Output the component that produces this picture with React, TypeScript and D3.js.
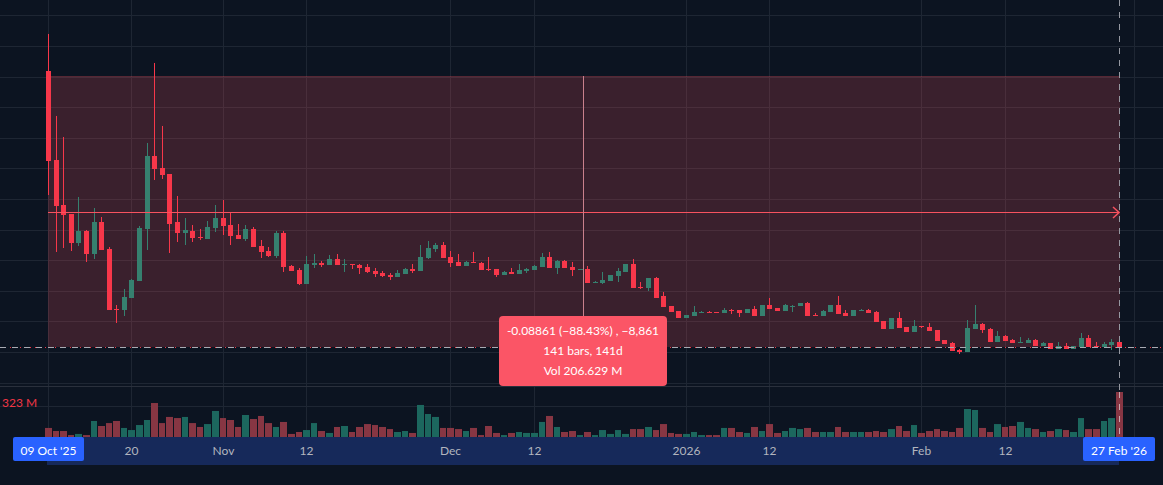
// App.tsx
import React, { useEffect, useRef } from 'react';
import * as d3 from 'd3';

const WIDTH = 1163;
const HEIGHT = 485;

// prices in units of 0.00001, volume in millions
const opens = [10184,7274,5802,5508,4560,4952,4200,5247,4364,2402,2369,2761,3317,5018,7405,7012,6816,5247,4887,4952,4756,4691,5050,5377,5148,4821,4691,5018,4462,4298,4135,4887,3808,3677,3219,3840,3906,3840,4037,3840,3873,3840,3775,3644,3579,3513,3448,3546,3710,3644,4069,4364,4494,4102,3939,3808,3939,3906,3710,3710,3513,3612,3546,3644,3677,3775,4102,3742,3971,3775,3677,3710,3252,3252,3317,3481,3612,3873,3121,3088,3415,2827,2500,2336,2107,2173,2271,2303,2303,2271,2369,2369,2271,2402,2173,2532,2434,2336,2500,2500,2598,2205,2173,2303,2532,2271,2173,2336,2369,2303,2009,1748,2107,1813,1649,1846,1813,1715,1388,1290,1061,995,1748,1911,1748,1322,1519,1388,1290,1290,1388,1191,1290,1094,1191,1094,1159,1453,1191,1159,1224,1322];
const highs = [11394,8713,8026,5508,6064,4985,5704,5410,4429,2532,3056,3383,5116,7830,10446,8386,6816,6097,5377,5148,5018,5279,5802,5966,5541,5181,5148,5083,4658,4429,4952,4952,3840,3742,4135,4200,3971,4167,4200,4037,3873,3873,3873,3742,3644,3579,3677,3742,3873,4494,4625,4560,4592,4298,4200,3971,4266,3939,4102,3710,3644,3742,3873,3742,3840,4233,4266,4004,4004,3939,3710,3808,3317,3612,3513,3742,3873,4037,3284,3415,3448,2958,2500,2336,2205,2500,2336,2336,2303,2434,2402,2369,2402,2500,2532,2761,2434,2565,2532,2598,2631,2271,2369,2532,2827,2369,2369,2402,2402,2336,2009,2107,2303,1813,2042,1846,1944,1715,1388,1322,1094,2042,2532,1944,1780,1682,1551,1420,1486,1453,1420,1322,1290,1322,1290,1191,1617,1551,1322,1322,1420,1322];
const lows = [6129,4266,4396,4298,4462,3939,4037,4331,2369,1944,2173,2761,3317,4331,6620,6653,4233,4592,4494,4592,4658,4691,4919,4821,4494,4691,4625,4429,4069,4102,4069,3612,3644,3186,3219,3742,3775,3840,3840,3612,3710,3546,3579,3448,3448,3350,3448,3546,3579,3644,4037,4266,4069,3775,3808,3808,3906,3677,3644,3448,3513,3546,3546,3579,3677,3775,3742,3546,3742,3481,3677,3252,3252,3219,3317,3284,3612,3088,3056,2990,2761,2467,2303,2107,2107,2173,2271,2271,2271,2271,2238,2140,2271,2173,2173,2402,2336,2336,2303,2500,2173,2173,2173,2303,2238,2173,2173,2336,2271,1976,1748,1748,1780,1649,1649,1780,1682,1355,1257,1028,930,995,1748,1617,1322,1322,1355,1290,1290,1290,1191,1191,1094,1094,1094,1094,1159,1159,1159,1159,1061,1148];
const closes = [7241,5770,5475,4560,4952,4200,5247,4331,2369,2369,2794,3350,5050,7405,6980,6783,5181,4887,4985,4723,4723,5083,5377,5116,4789,4691,5018,4429,4266,4135,4887,3775,3644,3219,3873,3906,3840,4037,3840,3873,3840,3742,3612,3546,3481,3448,3579,3710,3644,4102,4396,4494,4069,3906,3808,3939,3906,3677,3677,3513,3612,3546,3677,3710,3808,4102,3742,3971,3742,3677,3710,3252,3284,3350,3513,3644,3873,3088,3088,3415,2761,2467,2303,2107,2205,2303,2303,2271,2271,2369,2336,2271,2402,2173,2532,2402,2336,2532,2500,2598,2173,2173,2336,2532,2238,2173,2369,2369,2271,1976,1748,2107,1780,1649,1846,1813,1682,1355,1257,1028,995,1780,1911,1715,1322,1519,1355,1290,1322,1388,1191,1290,1094,1191,1094,1191,1453,1159,1159,1257,1322,1148];
const volumes = [65,43,43,14,22,14,115,79,100,115,65,50,86,122,244,100,144,136,144,100,72,93,187,136,122,72,158,129,151,100,72,108,22,36,50,100,43,29,72,79,36,72,93,86,72,57,36,43,29,230,165,144,65,65,57,43,65,14,79,29,14,29,36,29,29,108,151,72,36,43,14,36,14,50,22,50,22,57,57,72,50,93,29,22,22,36,14,14,14,65,65,36,29,72,43,93,29,43,65,57,65,36,36,36,72,36,36,36,36,43,36,57,79,43,86,29,43,57,43,36,65,201,194,65,36,93,72,79,108,65,57,36,43,57,50,36,136,57,57,115,136,323];

const gridXTicks = [0, 11, 23, 34, 53, 64, 84, 95, 115, 126, 143];
const timeLabels = ['20', 'Nov', '12', 'Dec', '12', '2026', '12', 'Feb', '12'];
const timeLabelBars = [11, 23, 34, 53, 64, 84, 95, 115, 126];
const gridPrices = [15, 46, 77, 107, 138, 168, 199, 230, 260, 291, 321, 352];

const rangeTop = 10020;
const rangeBottom = 1159;

const BG = '#0c1421';
const UP = '#36806f';
const DOWN = '#f7374a';
const UP_VOL = '#1c675e';
const DOWN_VOL = '#873643';
const FONT = 'Lato, "Noto Sans", sans-serif';

const App: React.FC = () => {
  const chartRef = useRef<SVGSVGElement | null>(null);

  useEffect(() => {
    if (!chartRef.current) return;
    const svg = d3.select(chartRef.current);
    svg.selectAll('*').remove();

    const x = d3.scaleLinear().domain([0, 141]).range([48.43, 1119.33]);
    const y = d3.scaleLinear().domain([rangeBottom, rangeTop]).range([347, 76]);
    const yVol = d3.scaleLinear().domain([0, 323]).range([437, 392]);
    const px = (i: number) => Math.floor(x(i));

    svg.append('rect').attr('width', WIDTH).attr('height', HEIGHT).attr('fill', BG);

    // grid
    const grid = svg.append('g').attr('stroke', '#1e2633').attr('stroke-width', 1);
    gridPrices.forEach(g => {
      grid.append('line').attr('x1', 0).attr('x2', WIDTH).attr('y1', g + 0.5).attr('y2', g + 0.5);
    });
    grid.append('line').attr('x1', 0).attr('x2', WIDTH).attr('y1', 406.5).attr('y2', 406.5);
    gridXTicks.forEach(t => {
      grid.append('line').attr('x1', px(t) + 0.5).attr('x2', px(t) + 0.5).attr('y1', 0).attr('y2', 437);
    });

    // pane separator
    svg.append('line').attr('x1', 0).attr('x2', WIDTH).attr('y1', 383.5).attr('y2', 383.5).attr('stroke', '#1e2633');
    svg.append('line').attr('x1', 0).attr('x2', WIDTH).attr('y1', 386.5).attr('y2', 386.5).attr('stroke', '#2a303c');

    // price range box
    svg.append('rect')
      .attr('x', px(0))
      .attr('y', y(rangeTop))
      .attr('width', px(141) - px(0) + 1)
      .attr('height', y(rangeBottom) - y(rangeTop))
      .attr('fill', 'rgba(247, 82, 95, 0.2)');
    svg.append('line')
      .attr('x1', px(0)).attr('x2', px(141) + 1)
      .attr('y1', y(rangeTop) + 0.5).attr('y2', y(rangeTop) + 0.5)
      .attr('stroke', 'rgba(247, 82, 95, 0.15)');

    // candles
    const candles = svg.append('g');
    opens.forEach((open, i) => {
      const close = closes[i];
      const color = close >= open ? UP : DOWN;
      const top = Math.round(y(Math.max(open, close)));
      const bottom = Math.round(y(Math.min(open, close)));
      candles.append('rect')
        .attr('x', px(i))
        .attr('y', y(highs[i]))
        .attr('width', 1)
        .attr('height', y(lows[i]) - y(highs[i]))
        .attr('fill', color);
      candles.append('rect')
        .attr('x', px(i) - 2)
        .attr('y', top)
        .attr('width', 5)
        .attr('height', Math.max(1, bottom - top))
        .attr('fill', color);
    });

    // crosshair, dashes drawn over the red dash-dot of the price line
    svg.append('line')
      .attr('x1', 0).attr('x2', WIDTH).attr('y1', 347.5).attr('y2', 347.5)
      .attr('stroke', '#f23645').attr('stroke-dasharray', '1 4');
    svg.append('line')
      .attr('x1', 0).attr('x2', WIDTH).attr('y1', 347.5).attr('y2', 347.5)
      .attr('stroke', '#a8abb3').attr('stroke-dasharray', '6 6');
    svg.append('line')
      .attr('x1', px(141) + 0.5).attr('x2', px(141) + 0.5).attr('y1', 0).attr('y2', 437)
      .attr('stroke', '#9598a1').attr('stroke-dasharray', '6 6');

    // measure lines
    const midY = Math.round(y((rangeTop + rangeBottom) / 2)) + 0.5;
    svg.append('line')
      .attr('x1', px(0)).attr('x2', px(141)).attr('y1', midY).attr('y2', midY)
      .attr('stroke', '#f7525f');
    svg.append('path')
      .attr('d', `M${px(141) - 6},${midY - 5.5}L${px(141)},${midY}L${px(141) - 6},${midY + 5.5}`)
      .attr('fill', 'none').attr('stroke', '#f7525f').attr('stroke-width', 1.5);
    svg.append('line')
      .attr('x1', 583.5).attr('x2', 583.5).attr('y1', y(rangeTop)).attr('y2', 316)
      .attr('stroke', '#c9808c');

    // volume
    const vol = svg.append('g');
    volumes.forEach((v, i) => {
      vol.append('rect')
        .attr('x', px(i) - 3)
        .attr('y', yVol(v))
        .attr('width', i < 141 ? px(i + 1) - px(i) - 1 : 7)
        .attr('height', yVol(0) - yVol(v))
        .attr('fill', closes[i] >= opens[i] ? UP_VOL : DOWN_VOL);
    });
    svg.append('line')
      .attr('x1', px(141) + 0.5).attr('x2', px(141) + 0.5).attr('y1', 392).attr('y2', 437)
      .attr('stroke', '#c8a9b0').attr('stroke-dasharray', '6 6');

    svg.append('text')
      .attr('x', 2).attr('y', 407)
      .attr('fill', '#f23645').attr('font-size', 12).attr('font-family', FONT)
      .text('323 M');

    // time axis band
    svg.append('rect').attr('x', 47).attr('y', 437).attr('width', 1072).attr('height', 28).attr('fill', '#16295a');
    timeLabels.forEach((label, i) => {
      svg.append('text')
        .attr('x', px(timeLabelBars[i]) + 0.5).attr('y', 455)
        .attr('text-anchor', 'middle')
        .attr('fill', '#b2b5be').attr('font-size', 12).attr('font-family', FONT)
        .text(label);
    });

    const dateTag = (x0: number, w: number, text: string) => {
      svg.append('rect').attr('x', x0).attr('y', 437).attr('width', w).attr('height', 24).attr('rx', 2).attr('fill', '#2962ff');
      svg.append('text')
        .attr('x', x0 + w / 2).attr('y', 455)
        .attr('text-anchor', 'middle')
        .attr('fill', '#ffffff').attr('font-size', 12).attr('font-family', FONT)
        .text(text);
    };
    dateTag(13, 71, "09 Oct '25");
    dateTag(1083, 72, "27 Feb '26");

    // measure label
    svg.append('rect').attr('x', 499).attr('y', 316).attr('width', 168).attr('height', 70).attr('rx', 4).attr('fill', '#fb5566');
    ['-0.08861 (−88.43%) , −8,861', '141 bars, 141d', 'Vol 206.629 M'].forEach((line, i) => {
      svg.append('text')
        .attr('x', 583).attr('y', 335 + i * 20)
        .attr('text-anchor', 'middle')
        .attr('fill', '#ffffff').attr('font-size', 12).attr('font-family', FONT)
        .text(line);
    });
  }, []);

  return (
    <div style={{ position: 'absolute', left: 0, top: 0 }}>
      <svg ref={chartRef} width={WIDTH} height={HEIGHT} style={{ display: 'block' }}></svg>
    </div>
  );
};

export default App;
